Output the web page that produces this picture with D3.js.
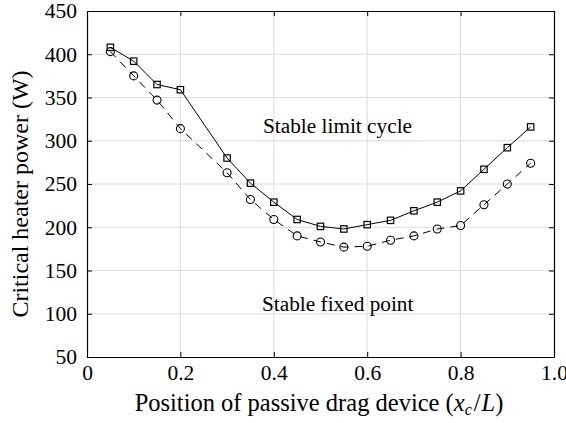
<!doctype html>
<html>
<head>
<script src="https://cdnjs.cloudflare.com/ajax/libs/d3/7.8.5/d3.min.js"></script>
<style>
  body { margin: 0; background: #fff; }
  text { font-family: "Liberation Serif", "Times New Roman", serif; }
</style>
</head>
<body>
<svg width="566" height="423"></svg>
<script>
// positions along the device (x_c / L)
var positions = [0.05, 0.1, 0.15, 0.2, 0.3, 0.35, 0.4, 0.45, 0.5, 0.55, 0.6, 0.65, 0.7, 0.75, 0.8, 0.85, 0.9, 0.95];
// solid line, square markers
var squarePower = [408, 392, 365, 359, 280, 251, 229, 209, 201, 198, 203, 208, 219, 229, 242, 267, 292, 316];
// dashed line, circle markers
var circlePower = [403, 375, 347, 314, 263, 232, 209, 190, 183, 177, 178, 185, 190, 198, 202, 226, 250, 274];
var xTicks = [0, 0.2, 0.4, 0.6, 0.8, 1.0];
var yTicks = [50, 100, 150, 200, 250, 300, 350, 400, 450];

var svg = d3.select("svg");
var padL = 87, padR = 554, padT = 11, padB = 357;

var x = d3.scaleLinear().domain([0, 1]).range([padL, padR]);
var y = d3.scaleLinear().domain([50, 450]).range([padB, padT]);

// grid
svg.append("g").selectAll("line").data(xTicks.slice(1, -1)).enter().append("line")
  .attr("x1", d => x(d)).attr("x2", d => x(d)).attr("y1", padT).attr("y2", padB)
  .attr("stroke", "#dcdcdc").attr("stroke-width", 1);
svg.append("g").selectAll("line").data(yTicks.slice(1, -1)).enter().append("line")
  .attr("y1", d => y(d)).attr("y2", d => y(d)).attr("x1", padL).attr("x2", padR)
  .attr("stroke", "#dcdcdc").attr("stroke-width", 1);

// axes with inward ticks
var fmt = d => d === 0 ? "0" : d3.format(".1f")(d);
var xAxis = svg.append("g").attr("transform", "translate(0," + padB + ")")
  .call(d3.axisBottom(x).tickValues(xTicks).tickFormat(fmt).tickSizeInner(-5).tickSizeOuter(0).tickPadding(5));
svg.append("g").attr("transform", "translate(0," + padT + ")")
  .call(d3.axisTop(x).tickValues(xTicks).tickFormat("").tickSizeInner(-5).tickSizeOuter(0));
svg.append("g").attr("transform", "translate(" + padL + ",0)")
  .call(d3.axisLeft(y).tickValues(yTicks).tickSizeInner(-5).tickSizeOuter(0).tickPadding(10));
svg.append("g").attr("transform", "translate(" + padR + ",0)")
  .call(d3.axisRight(y).tickValues(yTicks).tickFormat("").tickSizeInner(-5).tickSizeOuter(0));

svg.selectAll(".domain").attr("stroke", "#000").attr("stroke-width", 1.2);
svg.selectAll(".tick line").attr("stroke", "#000");
svg.selectAll(".tick text").attr("font-family", "Liberation Serif, serif").attr("font-size", 21.5).attr("fill", "#000");
xAxis.selectAll(".tick text").attr("dy", "0.85em");

// series
var sq = positions.map((p, i) => [p, squarePower[i]]);
var ci = positions.map((p, i) => [p, circlePower[i]]);
var line = d3.line().x(d => x(d[0])).y(d => y(d[1]));

svg.append("path").datum(sq).attr("d", line)
  .attr("fill", "none").attr("stroke", "#000").attr("stroke-width", 1);
svg.append("path").datum(ci).attr("d", line)
  .attr("fill", "none").attr("stroke", "#000").attr("stroke-width", 1)
  .attr("stroke-dasharray", "8,6");

svg.append("g").selectAll("rect").data(sq).enter().append("rect")
  .attr("x", d => x(d[0]) - 3.2).attr("y", d => y(d[1]) - 3.2)
  .attr("width", 6.4).attr("height", 6.4)
  .attr("fill", "none").attr("stroke", "#000").attr("stroke-width", 1.2);
svg.append("g").selectAll("circle").data(ci).enter().append("circle")
  .attr("cx", d => x(d[0])).attr("cy", d => y(d[1])).attr("r", 4)
  .attr("fill", "none").attr("stroke", "#000").attr("stroke-width", 1.1);

// annotations
svg.append("text").attr("x", 263).attr("y", 133).attr("font-size", 21.3).text("Stable limit cycle");
svg.append("text").attr("x", 262).attr("y", 311).attr("font-size", 21.3).text("Stable fixed point");

// axis labels
var xl = svg.append("text").attr("x", 319).attr("y", 411)
  .attr("text-anchor", "middle").attr("font-size", 24.5);
xl.append("tspan").text("Position of passive drag device (");
xl.append("tspan").attr("font-style", "italic").text("x");
xl.append("tspan").attr("font-style", "italic").attr("font-size", 16).attr("dy", 4).text("c");
xl.append("tspan").attr("dy", -4).attr("dx", 2).text("/");
xl.append("tspan").attr("font-style", "italic").attr("dx", 1).text("L");
xl.append("tspan").text(")");

svg.append("text").attr("transform", "translate(28,194) rotate(-90)")
  .attr("text-anchor", "middle").attr("font-size", 24).text("Critical heater power (W)");
</script>
</body>
</html>
